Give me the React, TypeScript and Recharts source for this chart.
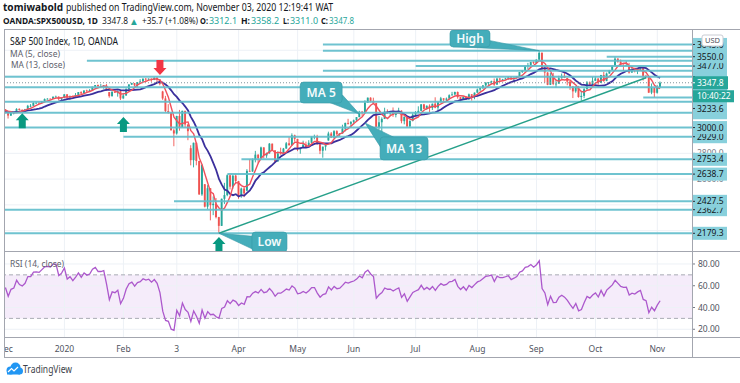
import React from 'react';
import { ComposedChart, Bar, Line, XAxis, YAxis, ReferenceLine, ReferenceDot, ReferenceArea } from 'recharts';

const FONT = '"Noto Sans", "Open Sans", "Liberation Sans", Arial, sans-serif';

// ---------- calendar (trading days) ----------
const monthNumbers = [12, 1, 2, 3, 4, 5, 6, 7, 8, 9, 10, 11];
const monthYears = [2019, 2020, 2020, 2020, 2020, 2020, 2020, 2020, 2020, 2020, 2020, 2020];
const monthTickLabels = ['Dec', '2020', 'Feb', '3', 'Apr', 'May', 'Jun', 'Jul', 'Aug', 'Sep', 'Oct', 'Nov'];
const tradingDays = [
  [2, 3, 4, 5, 6, 9, 10, 11, 12, 13, 16, 17, 18, 19, 20, 23, 24, 26, 27, 30, 31],
  [2, 3, 6, 7, 8, 9, 10, 13, 14, 15, 16, 17, 21, 22, 23, 24, 27, 28, 29, 30, 31],
  [3, 4, 5, 6, 7, 10, 11, 12, 13, 14, 18, 19, 20, 21, 24, 25, 26, 27, 28],
  [2, 3, 4, 5, 6, 9, 10, 11, 12, 13, 16, 17, 18, 19, 20, 23, 24, 25, 26, 27, 30, 31],
  [1, 2, 3, 6, 7, 8, 9, 13, 14, 15, 16, 17, 20, 21, 22, 23, 24, 27, 28, 29, 30],
  [1, 4, 5, 6, 7, 8, 11, 12, 13, 14, 15, 18, 19, 20, 21, 22, 26, 27, 28, 29],
  [1, 2, 3, 4, 5, 8, 9, 10, 11, 12, 15, 16, 17, 18, 19, 22, 23, 24, 25, 26, 29, 30],
  [1, 2, 6, 7, 8, 9, 10, 13, 14, 15, 16, 17, 20, 21, 22, 23, 24, 27, 28, 29, 30, 31],
  [3, 4, 5, 6, 7, 10, 11, 12, 13, 14, 17, 18, 19, 20, 21, 24, 25, 26, 27, 28, 31],
  [1, 2, 3, 4, 8, 9, 10, 11, 14, 15, 16, 17, 18, 21, 22, 23, 24, 25, 28, 29, 30],
  [1, 2, 5, 6, 7, 8, 9, 12, 13, 14, 15, 16, 19, 20, 21, 22, 23, 26, 27, 28, 29, 30],
  [2, 3],
];

// ---------- OHLC (daily) ----------
const opens = [
  3141, 3113, 3093, 3113, 3117, 3145, 3135, 3132, 3141, 3169, 3169, 3191, 3192, 3191, 3205, 3221, 3224, 3223, 3240, 3240, 3221,
  3231, 3258, 3235, 3246, 3237, 3253, 3275, 3265, 3288, 3283, 3289, 3317, 3330, 3321, 3321, 3326, 3275, 3244, 3276, 3273, 3284,
  3226, 3249, 3298, 3334, 3345, 3328, 3352, 3358, 3379, 3374, 3380, 3370, 3386, 3373, 3280, 3226, 3128, 3116, 2979,
  2954, 3090, 3003, 3130, 3024, 2840, 2747, 2882, 2741, 2481, 2560, 2386, 2529, 2398, 2409, 2305, 2237, 2447, 2476, 2630, 2541, 2627,
  2585, 2470, 2527, 2510, 2664, 2659, 2750, 2790, 2762, 2846, 2783, 2800, 2875, 2823, 2737, 2799, 2798, 2837, 2878, 2863, 2940,
  2912, 2831, 2843, 2868, 2849, 2882, 2930, 2930, 2870, 2820, 2852, 2900, 2954, 2922, 2972, 2949, 2955, 2992, 3036, 3029,
  3044, 3056, 3081, 3123, 3112, 3194, 3232, 3207, 3190, 3002, 3041, 3067, 3125, 3113, 3115, 3098, 3117, 3131, 3050, 3084, 3009, 3053,
  3100, 3116, 3130, 3180, 3145, 3169, 3152, 3185, 3155, 3197, 3227, 3216, 3225, 3251, 3257, 3276, 3236, 3216, 3239, 3218, 3258, 3246,
  3271, 3295, 3306, 3327, 3349, 3352, 3360, 3333, 3380, 3373, 3373, 3381, 3389, 3375, 3385, 3397, 3431, 3443, 3478, 3485, 3508,
  3500, 3527, 3580, 3455, 3427, 3332, 3399, 3339, 3341, 3383, 3401, 3385, 3357, 3319, 3281, 3315, 3237, 3246, 3298, 3351, 3335,
  3363, 3381, 3348, 3408, 3361, 3419, 3447, 3477, 3535, 3512, 3489, 3483, 3484, 3427, 3443, 3436, 3453, 3465, 3401, 3391, 3271, 3310,
  3270, 3312.1,
];
const highs = [
  3144, 3114, 3120, 3120, 3150, 3149, 3143, 3145, 3176, 3182, 3198, 3198, 3198, 3206, 3226, 3228, 3226, 3240, 3248, 3242, 3233,
  3258, 3259, 3247, 3248, 3268, 3276, 3282, 3288, 3294, 3298, 3317, 3330, 3334, 3338, 3328, 3338, 3276, 3286, 3294, 3286, 3286,
  3268, 3306, 3337, 3348, 3346, 3353, 3376, 3382, 3385, 3381, 3381, 3393, 3393, 3375, 3285, 3246, 3182, 3118, 2992,
  3091, 3137, 3131, 3130, 3024, 2863, 2883, 2883, 2741, 2712, 2562, 2553, 2530, 2466, 2453, 2307, 2449, 2571, 2637, 2631, 2631, 2641,
  2586, 2534, 2533, 2677, 2756, 2760, 2819, 2792, 2852, 2847, 2806, 2880, 2876, 2825, 2815, 2844, 2842, 2888, 2926, 2955, 2945,
  2912, 2845, 2898, 2891, 2902, 2932, 2945, 2944, 2875, 2852, 2865, 2968, 2965, 2980, 2979, 2957, 3022, 3038, 3068, 3050,
  3062, 3082, 3130, 3129, 3212, 3233, 3235, 3232, 3191, 3089, 3079, 3154, 3141, 3121, 3156, 3120, 3154, 3134, 3086, 3086, 3054, 3111,
  3128, 3165, 3183, 3184, 3172, 3180, 3186, 3235, 3200, 3238, 3228, 3233, 3258, 3277, 3279, 3280, 3237, 3241, 3244, 3264, 3260, 3272,
  3302, 3307, 3330, 3352, 3352, 3364, 3381, 3387, 3387, 3378, 3387, 3395, 3399, 3391, 3399, 3432, 3445, 3481, 3502, 3509, 3514,
  3529, 3597, 3584, 3479, 3430, 3424, 3425, 3368, 3402, 3419, 3429, 3386, 3363, 3320, 3320, 3323, 3279, 3306, 3361, 3358, 3393,
  3397, 3382, 3409, 3432, 3427, 3447, 3482, 3550, 3538, 3528, 3489, 3516, 3503, 3476, 3465, 3460, 3466, 3466, 3409, 3392, 3342, 3312,
  3330, 3358.2,
];
const lows = [
  3110, 3070, 3090, 3102, 3115, 3133, 3127, 3130, 3138, 3156, 3168, 3187, 3189, 3190, 3204, 3218, 3220, 3223, 3234, 3212, 3212,
  3228, 3222, 3215, 3232, 3230, 3252, 3260, 3263, 3277, 3280, 3288, 3316, 3310, 3318, 3302, 3284, 3232, 3240, 3270, 3240, 3214,
  3224, 3247, 3296, 3330, 3318, 3315, 3350, 3356, 3360, 3366, 3355, 3368, 3350, 3328, 3215, 3118, 3108, 2977, 2855,
  2945, 2976, 3001, 3000, 2902, 2707, 2691, 2707, 2478, 2470, 2380, 2367, 2280, 2320, 2295, 2179.3, 2236, 2407, 2467, 2520, 2525, 2571,
  2447, 2455, 2460, 2505, 2657, 2656, 2730, 2722, 2761, 2761, 2765, 2798, 2820, 2728, 2735, 2791, 2795, 2836, 2860, 2862, 2892,
  2817, 2797, 2842, 2844, 2848, 2881, 2909, 2869, 2794, 2766, 2822, 2898, 2921, 2921, 2938, 2934, 2953, 2970, 3023, 2998,
  3024, 3052, 3080, 3090, 3110, 3193, 3196, 3186, 2999, 2984, 2934, 3066, 3108, 3094, 3083, 3079, 3114, 3033, 3025, 3002, 2999, 3048,
  3095, 3112, 3130, 3142, 3137, 3115, 3136, 3150, 3128, 3195, 3198, 3205, 3215, 3247, 3251, 3224, 3200, 3214, 3216, 3218, 3209, 3220,
  3270, 3282, 3300, 3318, 3329, 3335, 3324, 3333, 3363, 3361, 3373, 3370, 3369, 3354, 3380, 3397, 3424, 3440, 3453, 3484, 3494,
  3494, 3523, 3443, 3349, 3329, 3330, 3329, 3310, 3340, 3380, 3384, 3328, 3293, 3229, 3270, 3232, 3209, 3228, 3297, 3327, 3330,
  3361, 3324, 3347, 3355, 3360, 3419, 3446, 3476, 3503, 3478, 3440, 3480, 3419, 3425, 3428, 3415, 3440, 3365, 3382, 3268, 3259, 3233.6,
  3263, 3311.0,
];
const closes = [
  3113, 3093, 3113, 3117, 3145, 3135, 3132, 3141, 3169, 3169, 3191, 3192, 3191, 3205, 3221, 3224, 3223, 3240, 3240, 3221, 3231,
  3258, 3235, 3246, 3237, 3253, 3275, 3265, 3288, 3283, 3289, 3317, 3330, 3321, 3321, 3326, 3295, 3244, 3276, 3273, 3284, 3226,
  3249, 3298, 3334, 3345, 3328, 3352, 3358, 3379, 3374, 3380, 3370, 3386, 3373, 3338, 3226, 3128, 3116, 2979, 2954,
  3090, 3003, 3130, 3024, 2972, 2747, 2882, 2741, 2481, 2711, 2386, 2529, 2398, 2409, 2305, 2237, 2447, 2476, 2630, 2541, 2627, 2585,
  2470, 2527, 2489, 2664, 2659, 2750, 2790, 2762, 2846, 2783, 2800, 2875, 2823, 2737, 2799, 2798, 2837, 2878, 2863, 2940, 2912,
  2831, 2843, 2868, 2849, 2882, 2930, 2930, 2870, 2820, 2852, 2864, 2954, 2922, 2972, 2949, 2955, 2992, 3036, 3029, 3044,
  3056, 3081, 3123, 3112, 3194, 3232, 3207, 3190, 3002, 3041, 3067, 3125, 3113, 3115, 3098, 3117, 3131, 3050, 3084, 3009, 3053, 3100,
  3116, 3130, 3180, 3145, 3169, 3152, 3185, 3155, 3197, 3227, 3216, 3225, 3251, 3257, 3276, 3236, 3216, 3239, 3218, 3258, 3246, 3271,
  3295, 3306, 3327, 3349, 3352, 3360, 3333, 3380, 3373, 3373, 3381, 3389, 3375, 3385, 3397, 3431, 3443, 3478, 3485, 3508, 3500,
  3527, 3580, 3455, 3427, 3332, 3399, 3339, 3341, 3383, 3401, 3385, 3357, 3319, 3281, 3315, 3237, 3246, 3298, 3351, 3335, 3363,
  3381, 3348, 3408, 3361, 3419, 3447, 3477, 3535, 3512, 3489, 3483, 3484, 3427, 3443, 3436, 3453, 3465, 3401, 3391, 3271, 3310, 3270,
  3312.1, 3347.8,
];
// closes of Nov 2019, before the first visible bar (indicator warm-up only)
const warmupCloses = [3067, 3078, 3075, 3077, 3085, 3093, 3087, 3091, 3094, 3096, 3120, 3122, 3120, 3108, 3104, 3110, 3133, 3140, 3153, 3141];

// ---------- drawings ----------
const levelPrices = [3645.0, 3597.0, 3550.0, 3519.0, 3477.0, 3441.0, 3395.0, 3312.5, 3233.6, 3201.0, 3115.0, 3000.0, 2929.0, 2753.4, 2638.7, 2427.5, 2362.7, 2179.3];
const levelStarts = ['2020-05-14', '2020-05-14', '2020-10-07', '2020-01-14', '2020-07-01', '2020-05-14', '', '', '2020-10-26', '', '', '', '2020-02-03', '2020-04-02', '2020-03-26', '2020-02-28', '', ''];
const levelLabels = ['3645.0', '', '3550.0', '', '3477.0', '', '', '', '3233.6', '', '', '3000.0', '2929.0', '2753.4', '2638.7', '2427.5', '2362.7', '2179.3'];
const gridPrices = [2200, 2400, 2600, 2800, 3000, 3200, 3400, 3600];
const rsiTicks = [20, 40, 60, 80];
const trendStart = { date: '2020-03-23', price: 2179.3 };
const trendEnd = { date: '2020-10-27', price: 3387 };
const upArrows = [
  { date: '2019-12-10', price: 3112 },
  { date: '2020-02-03', price: 3082 },
  { date: '2020-03-23', price: 2150 },
];
const downArrows = [{ date: '2020-02-21', price: 3408 }];
const callouts = [
  { text: 'High', date: '2020-09-02', price: 3597 },
  { text: 'Low', date: '2020-03-23', price: 2179.3 },
  { text: 'MA 5', date: '2020-06-03', price: 3105 },
  { text: 'MA 13', date: '2020-06-05', price: 3036 },
];
const countdown = '10:40:22';

// ---------- derived ----------
const pad = (n: number) => String(n).padStart(2, '0');
const dates: string[] = [];
const monthStartIdx: number[] = [];
tradingDays.forEach((days, m) => {
  monthStartIdx.push(dates.length);
  days.forEach((d) => dates.push(`${monthYears[m]}-${pad(monthNumbers[m])}-${pad(d)}`));
});
const idxOf = (d: string) => dates.indexOf(d);

const X_MIN = -0.5;
const X_MAX = closes.length - 1 + 11.35; // empty space right of the last bar
const Y_MIN = 2042;
const Y_MAX = 3765;

const allCloses = [...warmupCloses, ...closes];
const W = warmupCloses.length;
const sma = (n: number, i: number) => {
  let s = 0;
  for (let k = i - n + 1; k <= i; k++) s += allCloses[k];
  return s / n;
};
const rsiAll: (number | null)[] = allCloses.map(() => null);
{
  let ag = 0, al = 0;
  for (let i = 1; i < allCloses.length; i++) {
    const ch = allCloses[i] - allCloses[i - 1];
    const g = Math.max(ch, 0), l = Math.max(-ch, 0);
    if (i <= 14) {
      ag += g / 14; al += l / 14;
      if (i === 14) rsiAll[i] = al === 0 ? 100 : 100 - 100 / (1 + ag / al);
    } else {
      ag = (ag * 13 + g) / 14; al = (al * 13 + l) / 14;
      rsiAll[i] = al === 0 ? 100 : 100 - 100 / (1 + ag / al);
    }
  }
}
const rows = closes.map((c, i) => ({
  i, o: opens[i], h: highs[i], l: lows[i], c,
  range: [lows[i], highs[i]],
  ma5: sma(5, W + i),
  ma13: sma(13, W + i),
  rsi: rsiAll[W + i],
}));
const last = closes.length - 1;
const currentPrice = closes[last];
const prevClose = closes[last - 1];
const change = currentPrice - prevClose;
const changePct = (change / prevClose) * 100;

// grey axis values that sit right under a level label are not drawn (they are hidden in the reference)
const pxPerUnit = 222 / (Y_MAX - Y_MIN);
const visibleGrid = gridPrices.filter(
  (p) => !levelPrices.some((lv) => Math.abs(lv - p) * pxPerUnit < 4.5)
);
const unlabeledLevels = levelPrices.filter((_, k) => !levelLabels[k]);
const labeledLevels = levelPrices.filter((_, k) => !!levelLabels[k]).sort((a, b) => a - b);
const priceAxisTicks = [...visibleGrid, ...unlabeledLevels, ...labeledLevels, currentPrice];

// ---------- styles ----------
const UP = '#26a69a';
const DOWN = '#ef5350';
const GRID = '#edf1f6';
const LEVEL = '#5fbccb';
const LABEL_BG = '#88d0dc';
const CALLOUT = '#44adba';
const ARROW_UP = '#089981';
const ARROW_DOWN = '#f23645';
const AXIS_TXT = '#50535e';

function Candle(props: any) {
  const { x, y, width, height, payload } = props;
  if (!payload || x == null || y == null) return null;
  const top = Math.min(y, y + height);
  const bot = Math.max(y, y + height);
  const { o, h, l, c } = payload;
  const span = h - l || 1;
  const py = (v: number) => top + ((h - v) / span) * (bot - top);
  const cx = x + width / 2;
  const color = c >= o ? UP : DOWN;
  const y1 = py(Math.min(Math.max(o, c), h));
  const y2 = py(Math.max(Math.min(o, c), l));
  return (
    <g>
      <line x1={cx} x2={cx} y1={top} y2={bot} stroke={color} strokeWidth={0.9} />
      <rect x={cx - 0.95} y={y1} width={1.9} height={Math.max(y2 - y1, 0.8)} fill={color} />
    </g>
  );
}

function PriceTick(props: any) {
  const { x, y, payload } = props;
  const v = payload.value;
  const bx = x + 1;
  if (v === currentPrice) {
    return (
      <g>
        <rect x={bx} y={y - 6.5} width={35} height={13} fill={UP} />
        <line x1={x} x2={x + 3} y1={y} y2={y} stroke="#ffffff" />
        <text x={x + 5} y={y + 3.1} fontSize={8.5} fill="#fff" fontFamily={FONT}>{v.toFixed(1)}</text>
        <rect x={bx} y={y + 7.5} width={41} height={12} fill={UP} />
        <text x={x + 5} y={y + 16.6} fontSize={8.5} fill="#fff" fontFamily={FONT}>{countdown}</text>
      </g>
    );
  }
  const k = levelPrices.indexOf(v);
  if (k >= 0) {
    const label = levelLabels[k];
    const shift = v === 3233.6 ? 11 : 0;
    return (
      <g>
        <rect x={bx} y={y - 6.5} width={34} height={13} fill={LABEL_BG} />
        {shift ? <rect x={bx} y={y + shift - 6.5} width={34} height={13} fill={LABEL_BG} /> : null}
        <line x1={x} x2={x + 3} y1={y + shift} y2={y + shift} stroke="#2a2e39" />
        {label ? (
          <text x={x + 5} y={y + shift + 3.1} fontSize={8.5} fill="#131722" fontFamily={FONT}>{label}</text>
        ) : null}
      </g>
    );
  }
  return (
    <g>
      <line x1={x} x2={x + 3} y1={y} y2={y} stroke="#787b86" />
      <text x={x + 5} y={y + 3.1} fontSize={8.5} fill="#787b86" fontFamily={FONT}>{v.toFixed(1)}</text>
    </g>
  );
}

function RsiTick(props: any) {
  const { x, y, payload } = props;
  return (
    <g>
      <line x1={x} x2={x + 3} y1={y} y2={y} stroke="#787b86" />
      <text x={x + 6} y={y + 3.1} fontSize={8.5} fill={AXIS_TXT} fontFamily={FONT}>{payload.value.toFixed(2)}</text>
    </g>
  );
}

function DateTick(props: any) {
  const { x, y, payload } = props;
  const k = monthStartIdx.indexOf(payload.value);
  return (
    <text x={x} y={y + 15} textAnchor="middle" fontSize={8.5} fill={AXIS_TXT} fontFamily={FONT}>
      {k >= 0 ? monthTickLabels[k] : ''}
    </text>
  );
}

function Arrow(props: any) {
  const { cx, cy, dir } = props;
  if (cx == null || cy == null) return null;
  const s = dir === 'up' ? 1 : -1;
  const pts = [[0, 0], [6.5, 7], [3.5, 7], [3.5, 15], [-3.5, 15], [-3.5, 7], [-6.5, 7]]
    .map(([dx, dy]) => `${cx + dx},${cy + s * dy}`).join(' ');
  return <polygon points={pts} fill={dir === 'up' ? ARROW_UP : ARROW_DOWN} />;
}

const calloutGeom: Record<string, { bx: number; by: number; bw: number; bh: number; tail: number[][] }> = {
  High: { bx: -89.3, by: -20.6, bw: 40, bh: 17, tail: [[-86, -4], [-49, -10], [0, 0]] },
  Low: { bx: 33, by: -1.3, bw: 35, bh: 20, tail: [[0, 0], [34, 3], [34, 16]] },
  'MA 5': { bx: -59.3, by: -32, bw: 42, bh: 21, tail: [[-31, -12], [-17, -19], [0, 0]] },
  'MA 13': { bx: 15, by: 14, bw: 48, bh: 23, tail: [[0, 0], [16, 25], [30, 15]] },
};

function Callout(props: any) {
  const { cx, cy, text } = props;
  if (cx == null || cy == null) return null;
  const g = calloutGeom[text];
  const pts = g.tail.map(([dx, dy]) => `${cx + dx},${cy + dy}`).join(' ');
  return (
    <g>
      <polygon points={pts} fill={CALLOUT} stroke="#3599a6" strokeWidth={0.6} />
      <rect x={cx + g.bx} y={cy + g.by} width={g.bw} height={g.bh} rx={3.5} fill={CALLOUT} stroke="#3599a6" strokeWidth={0.6} />
      <text x={cx + g.bx + g.bw / 2} y={cy + g.by + g.bh / 2 + 4.3} textAnchor="middle" fontSize={12} fontWeight={600} fill="#f4fbfc" fontFamily={FONT}>{text}</text>
    </g>
  );
}

function MainChart() {
  return (
    <ComposedChart width={740} height={252} data={rows} margin={{ top: 29, right: 0, bottom: 1, left: 4 }}>
      <XAxis type="number" dataKey="i" domain={[X_MIN, X_MAX]} allowDataOverflow hide />
      <YAxis
        type="number"
        orientation="right"
        width={48}
        domain={[Y_MIN, Y_MAX]}
        allowDataOverflow
        ticks={priceAxisTicks}
        interval={0}
        tick={<PriceTick />}
        tickLine={false}
        axisLine={false}
        tickSize={0}
        tickMargin={0}
      />
      {gridPrices.map((p) => (
        <ReferenceLine key={'gy' + p} y={p} stroke={GRID} strokeWidth={1} zIndex={-100} />
      ))}
      {monthStartIdx.slice(1).map((i) => (
        <ReferenceLine key={'gx' + i} x={i} stroke={GRID} strokeWidth={1} zIndex={-100} />
      ))}
      <Bar dataKey="range" shape={Candle} barSize={3} isAnimationActive={false} />
      <Line dataKey="ma13" stroke="#3b2f9c" strokeWidth={1.8} dot={false} activeDot={false} isAnimationActive={false} />
      <Line dataKey="ma5" stroke="#f0505c" strokeWidth={1.4} dot={false} activeDot={false} isAnimationActive={false} />
      {levelPrices.map((p, k) => (
        <ReferenceLine
          key={'lv' + k}
          segment={[
            { x: levelStarts[k] ? idxOf(levelStarts[k]) : X_MIN, y: p },
            { x: X_MAX, y: p },
          ]}
          stroke={LEVEL}
          strokeWidth={2}
          strokeOpacity={0.9}
        />
      ))}
      <ReferenceLine y={currentPrice} stroke="#7f949c" strokeDasharray="1 2" strokeWidth={1} />
      <ReferenceLine
        segment={[
          { x: idxOf(trendStart.date), y: trendStart.price },
          { x: idxOf(trendEnd.date), y: trendEnd.price },
        ]}
        stroke="#26a08a"
        strokeWidth={1.5}
      />
      {upArrows.map((a, k) => (
        <ReferenceDot key={'ua' + k} x={idxOf(a.date)} y={a.price} r={1} ifOverflow="visible" shape={(p: any) => <Arrow {...p} dir="up" />} />
      ))}
      {downArrows.map((a, k) => (
        <ReferenceDot key={'da' + k} x={idxOf(a.date)} y={a.price} r={1} ifOverflow="visible" shape={(p: any) => <Arrow {...p} dir="down" />} />
      ))}
      {callouts.map((c, k) => (
        <ReferenceDot key={'co' + k} x={idxOf(c.date)} y={c.price} r={1} ifOverflow="visible" shape={(p: any) => <Callout {...p} text={c.text} />} />
      ))}
    </ComposedChart>
  );
}

function RsiChart() {
  return (
    <ComposedChart width={740} height={106} data={rows} margin={{ top: 1, right: 0, bottom: 0, left: 4 }}>
      <XAxis
        type="number"
        dataKey="i"
        domain={[X_MIN, X_MAX]}
        allowDataOverflow
        ticks={monthStartIdx}
        interval={0}
        tick={<DateTick />}
        tickLine={false}
        axisLine={false}
        tickSize={0}
        tickMargin={0}
        height={20}
      />
      <YAxis
        type="number"
        orientation="right"
        width={48}
        domain={[12.9, 91]}
        allowDataOverflow
        ticks={rsiTicks}
        interval={0}
        tick={<RsiTick />}
        tickLine={false}
        axisLine={false}
        tickSize={0}
        tickMargin={0}
      />
      <ReferenceArea y1={30} y2={70} fill="#a64fd1" fillOpacity={0.11} stroke="none" />
      {rsiTicks.map((v) => (
        <ReferenceLine key={'ry' + v} y={v} stroke={GRID} strokeWidth={1} />
      ))}
      {monthStartIdx.slice(1).map((i) => (
        <ReferenceLine key={'rx' + i} x={i} stroke={GRID} strokeWidth={1} />
      ))}
      <ReferenceLine y={70} stroke="#a9acb4" strokeDasharray="4 3" />
      <ReferenceLine y={30} stroke="#a9acb4" strokeDasharray="4 3" />
      <Line dataKey="rsi" stroke="#ac58cc" strokeWidth={1.3} dot={false} activeDot={false} isAnimationActive={false} />
    </ComposedChart>
  );
}

function Overlay() {
  const BORDER = '#a3a6af';
  const G = '#26a69a';
  const lc = rows[last];
  const T = (p: any) => <text fontFamily={FONT} lengthAdjust="spacingAndGlyphs" {...p} />;
  return (
    <svg width={740} height={383} style={{ position: 'absolute', left: 0, top: 0, pointerEvents: 'none' }}>
      {/* header */}
      <T x={3} y={11} fontSize={10.5} fontWeight={700} fill="#131722" textLength={60}>tomiwabold</T>
      <T x={66} y={11} fontSize={10} fill="#131722" textLength={267}>published on TradingView.com, November 03, 2020 12:19:41 WAT</T>
      <T x={3} y={24} fontSize={9.5} fontWeight={700} fill="#131722" textLength={95}>OANDA:SPX500USD, 1D</T>
      <T x={102} y={24} fontSize={9.5} fill="#131722" textLength={26}>{lc.c.toFixed(1)}</T>
      <text x={131} y={23.5} fontSize={7.5} fill={G} fontFamily='"DejaVu Sans", sans-serif'>▲</text>
      <T x={142} y={24} fontSize={9.5} fill="#131722" textLength={56}>{`+${change.toFixed(1)} (+${changePct.toFixed(2)}%)`}</T>
      <T x={200} y={24} fontSize={9.5} fontWeight={700} fill="#131722" textLength={8}>O:</T>
      <T x={209} y={24} fontSize={9.5} fill={G} textLength={28}>{lc.o.toFixed(1)}</T>
      <T x={241} y={24} fontSize={9.5} fontWeight={700} fill="#131722" textLength={9}>H:</T>
      <T x={251} y={24} fontSize={9.5} fill={G} textLength={28}>{lc.h.toFixed(1)}</T>
      <T x={283} y={24} fontSize={9.5} fontWeight={700} fill="#131722" textLength={6}>L:</T>
      <T x={290} y={24} fontSize={9.5} fill={G} textLength={28}>{lc.l.toFixed(1)}</T>
      <T x={321} y={24} fontSize={9.5} fontWeight={700} fill="#131722" textLength={7}>C:</T>
      <T x={329} y={24} fontSize={9.5} fill={G} textLength={25}>{lc.c.toFixed(1)}</T>

      {/* pane legends */}
      <T x={10} y={45} fontSize={10} fill="#131722" textLength={108}>S&amp;P 500 Index, 1D, OANDA</T>
      <T x={10} y={57} fontSize={9.5} fill="#5d606b" textLength={50}>MA (5, close)</T>
      <T x={11} y={68} fontSize={9.5} fill="#5d606b" textLength={54}>MA (13, close)</T>
      <T x={10} y={267} fontSize={9.5} fill="#5d606b" textLength={54}>RSI (14, close)</T>

      {/* USD badge */}
      <rect x={702} y={35} width={21} height={11} rx={2} fill="#ffffff" stroke="#c9ccd3" />
      <text x={712.5} y={43.3} fontSize={7.5} textAnchor="middle" fill={AXIS_TXT} fontFamily={FONT}>USD</text>

      {/* clip left of pane for date labels */}
      <rect x={0} y={337} width={4} height={20} fill="#ffffff" />

      {/* borders */}
      <line x1={4} x2={740} y1={29.5} y2={29.5} stroke={BORDER} />
      <line x1={4.5} x2={4.5} y1={29} y2={357.5} stroke={BORDER} />
      <line x1={692.5} x2={692.5} y1={29} y2={357.5} stroke={BORDER} />
      <line x1={4} x2={740} y1={251.5} y2={251.5} stroke={BORDER} />
      <line x1={4} x2={740} y1={337.5} y2={337.5} stroke={BORDER} />
      <line x1={4} x2={740} y1={357.5} y2={357.5} stroke={BORDER} />

      {/* TradingView logo */}
      <g>
        <circle cx={10.5} cy={370.5} r={4} fill="#2196f3" />
        <circle cx={15.5} cy={367.5} r={5} fill="#2196f3" />
        <circle cx={19.5} cy={371} r={3.5} fill="#2196f3" />
        <rect x={7} y={370} width={13} height={4.5} fill="#2196f3" />
        <polyline points="8,372 11.5,368.5 14,371 18,367" fill="none" stroke="#ffffff" strokeWidth={1.2} />
      </g>
      <T x={23} y={373} fontSize={11} fill="#3c3f48" textLength={49}>TradingView</T>
    </svg>
  );
}

export default function App() {
  return (
    <div style={{ position: 'absolute', left: 0, top: 0, width: 740, height: 383, background: '#ffffff', overflow: 'hidden' }}>
      <div style={{ position: 'absolute', left: 0, top: 0 }}>
        <MainChart />
      </div>
      <div style={{ position: 'absolute', left: 0, top: 251 }}>
        <RsiChart />
      </div>
      <Overlay />
    </div>
  );
}
